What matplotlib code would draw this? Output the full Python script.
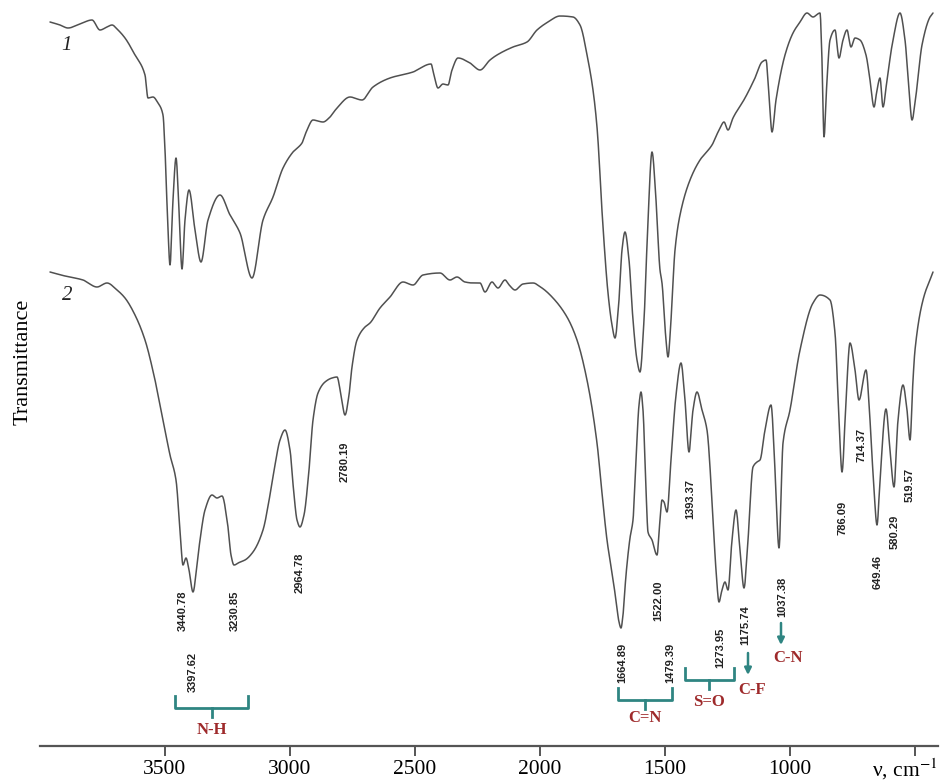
import numpy as np
import matplotlib
matplotlib.use("Agg")
import matplotlib.pyplot as plt

plt.rcParams["mathtext.fontset"] = "stix"

# ---------------- data (wavenumber cm^-1, transmittance arb. units) ----------------
wn1 = [3960, 3920, 3888, 3840, 3792, 3760, 3732, 3712, 3688, 3660, 3620, 3580, 3568, 3548,
       3528, 3508, 3500, 3488, 3480, 3468, 3456, 3444, 3432, 3420, 3404, 3380, 3356, 3328,
       3280, 3240, 3200, 3152, 3108, 3068, 3028, 2988, 2952, 2932, 2908, 2868, 2840, 2812,
       2760, 2712, 2668, 2600, 2508, 2436, 2424, 2408, 2388, 2368, 2352, 2328, 2280, 2240,
       2200, 2172, 2108, 2052, 2012, 1968, 1920, 1868, 1840, 1808, 1788, 1772, 1748, 1728,
       1712, 1700, 1684, 1672, 1660, 1644, 1628, 1612, 1600, 1584, 1568, 1552, 1536, 1520,
       1512, 1496, 1488, 1476, 1460, 1440, 1400, 1360, 1312, 1280, 1264, 1248, 1228, 1180,
       1140, 1112, 1096, 1084, 1072, 1056, 1020, 988, 960, 932, 908, 880, 872, 864, 852, 840,
       820, 804, 788, 772, 756, 740, 720, 696, 680, 664, 652, 640, 628, 612, 588, 560, 540,
       524, 512, 496, 472, 440, 428]
t1 = [72.4, 72.1, 71.8, 72.2, 72.6, 71.6, 71.9, 72.1, 71.6, 70.8, 69.1, 67.1, 64.8, 64.9,
      64.3, 63.1, 59.6, 51.6, 48.1, 54.6, 58.8, 53.6, 47.7, 52.6, 55.6, 51.6, 48.4, 52.6,
      55.1, 53.1, 51.3, 46.8, 52.6, 54.9, 57.8, 59.4, 60.3, 61.6, 62.6, 62.4, 62.9, 63.8,
      64.9, 64.6, 65.9, 66.8, 67.4, 68.2, 67.1, 65.8, 66.2, 66.1, 67.6, 68.8, 68.3, 67.6,
      68.6, 69.1, 69.9, 70.4, 71.6, 72.4, 73.0, 72.9, 72.1, 68.6, 65.6, 61.9, 51.9, 45.3,
      42.1, 40.8, 44.6, 49.6, 51.4, 48.6, 42.6, 38.6, 37.4, 42.6, 52.6, 59.4, 54.6, 47.6,
      46.3, 40.6, 38.9, 42.6, 49.6, 53.1, 56.6, 58.6, 60.1, 61.8, 62.4, 61.6, 62.8, 64.8,
      66.8, 68.4, 68.6, 65.1, 61.4, 64.6, 69.1, 71.3, 72.4, 73.3, 72.9, 73.3, 68.6, 60.9,
      66.6, 70.6, 71.6, 68.8, 70.6, 71.6, 69.9, 70.8, 70.6, 69.1, 66.6, 63.9, 65.6, 66.8,
      63.9, 66.6, 70.6, 73.3, 70.6, 65.6, 62.6, 65.1, 70.1, 72.9, 73.3]

wn2 = [3960, 3900, 3828, 3772, 3732, 3692, 3660, 3620, 3580, 3540, 3508, 3480, 3456, 3440,
       3428, 3416, 3404, 3388, 3372, 3360, 3340, 3312, 3292, 3272, 3248, 3236, 3224, 3200,
       3180, 3148, 3108, 3080, 3060, 3040, 3020, 3000, 2984, 2972, 2960, 2944, 2924, 2908,
       2888, 2860, 2832, 2812, 2796, 2780, 2764, 2752, 2732, 2700, 2680, 2640, 2600, 2548,
       2508, 2468, 2400, 2360, 2332, 2300, 2268, 2240, 2220, 2192, 2168, 2140, 2120, 2100,
       2068, 2028, 1992, 1948, 1892, 1852, 1812, 1772, 1752, 1732, 1712, 1696, 1684, 1676,
       1668, 1656, 1640, 1628, 1616, 1604, 1596, 1588, 1576, 1568, 1552, 1532, 1520, 1512,
       1504, 1492, 1476, 1456, 1436, 1420, 1404, 1388, 1372, 1352, 1332, 1312, 1296, 1284,
       1272, 1260, 1248, 1232, 1216, 1200, 1184, 1168, 1148, 1132, 1120, 1100, 1076, 1060,
       1044, 1028, 1000, 960, 908, 880, 840, 820, 804, 792, 776, 760, 740, 724, 696, 680,
       664, 652, 640, 616, 600, 584, 568, 548, 532, 520, 508, 500, 468, 428]
t2 = [47.4, 47.0, 46.6, 45.9, 46.3, 45.6, 44.8, 43.1, 40.6, 36.6, 32.6, 29.1, 26.6, 21.6,
      18.1, 18.8, 17.6, 15.4, 18.1, 20.6, 23.6, 25.1, 24.8, 25.0, 21.9, 19.1, 18.1, 18.4,
      18.6, 19.4, 21.6, 25.1, 28.1, 30.6, 31.6, 29.6, 25.1, 22.6, 21.9, 23.1, 27.6, 32.6,
      35.3, 36.4, 36.8, 36.9, 35.1, 33.1, 35.1, 37.9, 40.6, 41.9, 42.3, 43.8, 44.9, 46.4,
      46.1, 47.1, 47.3, 46.6, 46.9, 46.4, 46.3, 46.3, 45.4, 46.4, 45.8, 46.6, 46.0, 45.6,
      46.2, 46.3, 45.8, 44.8, 42.9, 40.6, 36.6, 30.3, 25.3, 20.6, 17.3, 14.6, 12.4, 11.8,
      13.1, 17.1, 20.8, 22.6, 28.6, 34.1, 35.4, 33.6, 25.6, 21.4, 20.6, 19.1, 22.6, 24.6,
      24.4, 23.4, 28.6, 35.1, 38.3, 34.6, 29.4, 33.6, 35.4, 33.6, 31.6, 24.6, 17.6, 14.4,
      15.6, 16.4, 15.6, 20.6, 23.6, 19.6, 15.8, 20.6, 27.9, 28.4, 28.6, 31.6, 34.1, 27.6,
      19.8, 30.3, 33.6, 39.6, 44.3, 45.1, 44.6, 41.3, 32.6, 27.4, 34.6, 40.3, 37.6, 34.6,
      37.6, 32.6, 25.6, 22.1, 26.6, 33.7, 29.6, 25.9, 32.6, 36.1, 33.6, 30.6, 36.6, 39.6,
      44.6, 47.4]

peak_labels = ["3440.78", "3397.62", "3230.85", "2964.78", "2780.19", "1664.89", "1522.00",
               "1479.39", "1393.37", "1273.95", "1175.74", "1037.38", "786.09", "714.37",
               "649.46", "580.29", "519.57"]
peak_label_wn = [3428, 3388, 3220, 2960, 2780, 1672, 1528, 1480, 1400, 1280, 1180, 1032,
                 788, 712, 648, 580, 520]
peak_label_t = [13.5, 7.4, 13.5, 17.3, 28.4, 8.3, 14.5, 8.3, 24.7, 9.8, 12.1, 14.9,
                22.8, 30.1, 17.4, 21.4, 26.1]

group_names = ["N-H", "C=N", "S=O"]
group_lo = [3460, 1688, 1420]
group_hi = [3168, 1472, 1224]
group_mid = [3312, 1580, 1324]
group_bracket_t = [3.8, 4.6, 6.6]
group_text_t = [1.6, 2.8, 4.4]

arrow_names = ["C-F", "C-N"]
arrow_wn = [1168, 1036]
arrow_t_from = [9.3, 12.3]
arrow_t_to = [7.1, 10.1]
arrow_text_wn = [1152, 1008]
arrow_text_t = [5.6, 8.8]

xticks = [3500, 3000, 2500, 2000, 1500, 1000, 500]
xtick_labels = ["3500", "3000", "2500", "2000", "1500", "1000", ""]


def pchip(x, y, xn):
    x = np.asarray(x, float); y = np.asarray(y, float)
    h = np.diff(x); dl = np.diff(y) / h
    d = np.zeros_like(y)
    for k in range(1, len(x) - 1):
        if dl[k - 1] * dl[k] > 0:
            w1 = 2 * h[k] + h[k - 1]; w2 = h[k] + 2 * h[k - 1]
            d[k] = (w1 + w2) / (w1 / dl[k - 1] + w2 / dl[k])
    d[0] = dl[0]; d[-1] = dl[-1]
    idx = np.clip(np.searchsorted(x, xn) - 1, 0, len(x) - 2)
    hh = h[idx]; s = (xn - x[idx]) / hh
    h00 = 2 * s**3 - 3 * s**2 + 1; h10 = s**3 - 2 * s**2 + s
    h01 = -2 * s**3 + 3 * s**2; h11 = s**3 - s**2
    return h00 * y[idx] + h10 * hh * d[idx] + h01 * y[idx + 1] + h11 * hh * d[idx + 1]


def smooth(wn, t):
    order = np.argsort(wn)
    x = np.asarray(wn, float)[order]; y = np.asarray(t, float)[order]
    xn = np.linspace(x[0], x[-1], 4000)
    return xn, pchip(x, y, xn)


W, H = 945, 782
fig = plt.figure(figsize=(W / 100, H / 100), dpi=100)
ax = fig.add_axes([40 / W, 36 / H, 898 / W, 746 / H])
ax.set_xlim(4000, 408)
ax.set_ylim(0, 74.6)

line_col = "#505050"
for wn, t in [(wn1, t1), (wn2, t2)]:
    xs, ys = smooth(wn, t)
    ax.plot(xs, ys, color=line_col, lw=1.1, solid_capstyle="round")

serif = ["Liberation Serif", "DejaVu Serif"]
sans = ["Liberation Sans", "DejaVu Sans"]

for txt, x, y in zip(peak_labels, peak_label_wn, peak_label_t):
    ax.text(x, y, txt, rotation=90, ha="center", va="center", fontsize=8,
            family=sans, color="#222222", fontweight="bold")

teal = "#2f8582"
dred = "#9e2a2b"
tick_h = 1.2
for name, lo, hi, mid, bt, tt in zip(group_names, group_lo, group_hi, group_mid,
                                     group_bracket_t, group_text_t):
    ax.plot([lo, lo, hi, hi], [bt + tick_h, bt, bt, bt + tick_h], color=teal, lw=2)
    ax.plot([mid, mid], [bt, bt - 0.9], color=teal, lw=2)
    ax.text(mid, tt, name, ha="center", va="center", fontsize=12, family=serif,
            color=dred, fontweight="bold")

for name, x, f, to, tx, ty in zip(arrow_names, arrow_wn, arrow_t_from, arrow_t_to,
                                  arrow_text_wn, arrow_text_t):
    ax.annotate("", xy=(x, to), xytext=(x, f),
                arrowprops=dict(arrowstyle="-|>", color=teal, lw=1.8, mutation_scale=10,
                                shrinkA=0, shrinkB=0))
    ax.text(tx, ty, name, ha="center", va="center", fontsize=12, family=serif,
            color=dred, fontweight="bold")

ax.text(3892, 70.1, "1", fontsize=15, family=serif, style="italic", ha="center",
        va="center", color="#222222")
ax.text(3892, 45.1, "2", fontsize=15, family=serif, style="italic", ha="center",
        va="center", color="#222222")

for s in ["top", "right", "left"]:
    ax.spines[s].set_visible(False)
ax.spines["bottom"].set_color("#555555")
ax.spines["bottom"].set_linewidth(1.6)
ax.set_yticks([])
ax.set_xticks(xticks)
ax.set_xticklabels(xtick_labels, family=serif, fontsize=15.5)
ax.tick_params(axis="x", direction="out", length=7, width=1.4, color="#555555", pad=3)

fig.text(23 / W, 1 - 362 / H, "Transmittance", rotation=90, ha="center", va="center",
         fontsize=16, family=serif)
fig.text(905 / W, 1 - 769 / H, r"ν, cm$^{-1}$", ha="center", va="center", fontsize=15.5,
         family=serif)

fig.savefig("out.png", dpi=100)
